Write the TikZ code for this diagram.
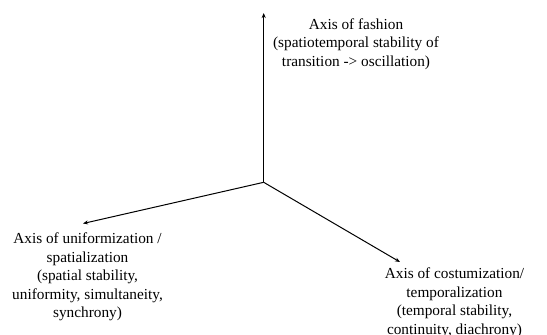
\documentclass[tikz,border=0pt]{standalone}
\usepackage{fontspec}
\setmainfont{Liberation Serif}
\usetikzlibrary{arrows.meta}
\tikzset{
	axis line/.style={draw, line width=1pt, -{Stealth[length=5pt, width=4pt]}},
	axis label/.style={align=center, inner sep=0pt, anchor=north, font=\fontsize{15.3}{18.4}\selectfont},
}

\begin{document}
\begin{tikzpicture}[x=1pt, y=-1pt]
 \useasboundingbox (0,0) rectangle (547,335);

              \coordinate (origin) at (263.7,182.3);
              \coordinate (fashion) at (263.7,13);
              \coordinate (uniform) at (83,223.5);
              \coordinate (costum) at (400,262);

              \draw[axis line] (origin) -- (fashion);
              \draw[axis line] (origin) -- (uniform);
              \draw[axis line] (origin) -- (costum);

              \node[axis label] (fashion label) at (356,18.5)
                {Axis of fashion\\(spatiotemporal stability of\\transition -> oscillation)};
              \node[axis label] (uniform label) at (87.5,233)
                {Axis of uniformization /\\spatialization\\(spatial stability,\\uniformity, simultaneity,\\synchrony)};
              \node[axis label] (costum label) at (454.5,268)
                {Axis of costumization/\\temporalization\\(temporal stability,\\continuity, diachrony)};

\end{tikzpicture}
\end{document}
